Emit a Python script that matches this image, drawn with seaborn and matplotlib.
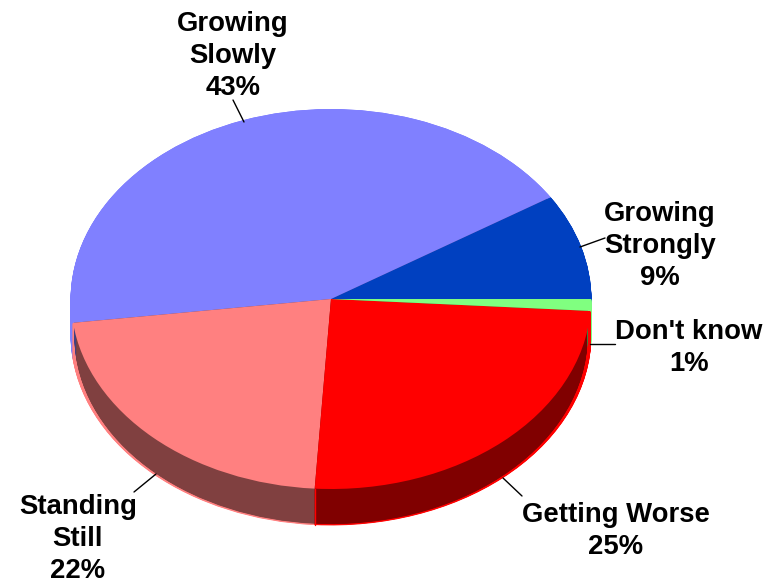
import matplotlib
matplotlib.use("Agg")
import matplotlib.pyplot as plt
import numpy as np
import seaborn as sns

W, H = 775, 584

categories = ["Growing Strongly", "Growing Slowly", "Standing Still", "Getting Worse", "Don't know"]
shares = [9, 43, 22, 25, 1]
top_colors = ["#0040C0", "#8080FF", "#FF8080", "#FF0000", "#80FF80"]
side_colors = ["#002060", "#404080", "#804040", "#800000", "#408040"]

label_texts = ["Growing\nStrongly\n9%", "Growing\nSlowly\n43%", "Standing\nStill\n22%", "Getting Worse\n25%", "Don't know\n1%"]
label_pos = [(660, 246), (233, 56), (78, 539), (616, 531), (689, 348)]
leader_from = [(605, 238), (233, 100), (134, 492), (522, 496), (615, 344)]
leader_to = [(580, 247), (244, 122), (156, 474), (503, 478), (590, 344)]

sns.set_theme(style="white")
plt.rcParams["font.family"] = ["Liberation Sans", "DejaVu Sans"]

fig = plt.figure(figsize=(W / 100, H / 100), dpi=100, facecolor="white")
ax = fig.add_axes([0, 0, 1, 1])

# pie lives in unit circle coords, squashed by the axis limits
cx, cy, rx, ry = 331, 299, 260, 190
depth = 36 / ry
n_layers = 72


def stack_wall(colors, radius, full_depth):
    # wall = same pie repeated downwards, lowest first
    for i in range(n_layers, 0, -1):
        w, _ = ax.pie(shares, colors=colors, startangle=0, radius=radius,
                      center=(0, -full_depth * i / n_layers))
        for patch, c in zip(w, colors):
            patch.set_edgecolor(c)
            patch.set_linewidth(0.6)


# thin rim in the top colour, then the dark wall just inside it
stack_wall(top_colors, 1, depth)
stack_wall(side_colors, 0.985, depth + 1.5 / ry)

wedges, _ = ax.pie(shares, colors=top_colors, startangle=0, radius=1, center=(0, 0),
                   wedgeprops=dict(linewidth=0))

# red seam on the wall where Standing Still meets Getting Worse
seam = np.deg2rad(wedges[2].theta2)
ax.plot([np.cos(seam)] * 2, [np.sin(seam), np.sin(seam) - depth], color="#FF0000", linewidth=1)

ax.set_aspect("auto")
ax.set_xlim(-cx / rx, (W - cx) / rx)
ax.set_ylim(-(H - cy) / ry, cy / ry)
ax.set_axis_off()


def to_data(px, py):
    return (px - cx) / rx, (cy - py) / ry


for txt, pos in zip(label_texts, label_pos):
    x, y = to_data(*pos)
    ax.text(x, y, txt, ha="center", va="center", fontsize=19.8, fontweight="bold",
            color="black", linespacing=1.31)

for a, b in zip(leader_from, leader_to):
    xa, ya = to_data(*a)
    xb, yb = to_data(*b)
    ax.plot([xa, xb], [ya, yb], color="black", linewidth=1, zorder=5)

fig.savefig("out.png", dpi=100, facecolor="white")
